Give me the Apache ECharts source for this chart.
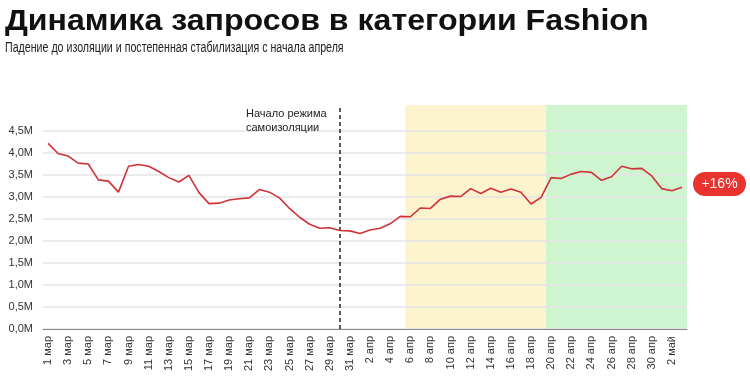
<!DOCTYPE html>
<html><head><meta charset="utf-8">
<script src="https://cdn.jsdelivr.net/npm/echarts@6/dist/echarts.min.js"></script>
<style>html,body{margin:0;padding:0;background:#fff}#c{width:750px;height:376px}</style>
</head><body><div id="c"></div>
<script>
const categories = ['1 мар','2 мар','3 мар','4 мар','5 мар','6 мар','7 мар','8 мар','9 мар','10 мар','11 мар','12 мар','13 мар','14 мар','15 мар','16 мар','17 мар','18 мар','19 мар','20 мар','21 мар','22 мар','23 мар','24 мар','25 мар','26 мар','27 мар','28 мар','29 мар','30 мар','31 мар','1 апр','2 апр','3 апр','4 апр','5 апр','6 апр','7 апр','8 апр','9 апр','10 апр','11 апр','12 апр','13 апр','14 апр','15 апр','16 апр','17 апр','18 апр','19 апр','20 апр','21 апр','22 апр','23 апр','24 апр','25 апр','26 апр','27 апр','28 апр','29 апр','30 апр','1 май','2 май','3 май'];
// queries, millions
const queries = [4.22,3.99,3.93,3.77,3.75,3.39,3.36,3.11,3.70,3.74,3.70,3.58,3.44,3.34,3.49,3.10,2.85,2.86,2.93,2.96,2.98,3.17,3.11,2.98,2.74,2.54,2.38,2.29,2.30,2.24,2.23,2.17,2.25,2.29,2.39,2.56,2.55,2.75,2.74,2.95,3.02,3.01,3.19,3.08,3.20,3.11,3.18,3.11,2.84,2.99,3.44,3.42,3.52,3.58,3.56,3.38,3.46,3.70,3.64,3.65,3.48,3.19,3.14,3.22];
const yTicks = [0,0.5,1,1.5,2,2.5,3,3.5,4,4.5];
const isolationStart = '30 мар';
const yellowStart = '6 апр';
const greenStart = '20 апр';
const titleText = 'Динамика запросов в категории Fashion';
const subtitleText = 'Падение до изоляции и постепенная стабилизация с начала апреля';
const annotation = ['Начало режима','самоизоляции'];
const badge = '+16%';

const iIso = categories.indexOf(isolationStart);
const iY = categories.indexOf(yellowStart);
const iG = categories.indexOf(greenStart);
const n = categories.length;
const FF = 'Liberation Sans, Arial';

const chart = echarts.init(document.getElementById('c'), null, {renderer:'canvas'});
chart.setOption({
  backgroundColor:'#fff',
  animation:false,
  grid:[
    {left:43, right:63, top:131, bottom:47},
    {left:43, right:63, top:105, bottom:47}
  ],
  xAxis:[
    {type:'category', gridIndex:0, data:categories, boundaryGap:true,
     axisLine:{lineStyle:{color:'#888', width:1}}, axisTick:{show:false},
     axisLabel:{interval:1, rotate:90, fontSize:11, color:'#333', margin:7, fontFamily:FF},
     z:3},
    {type:'value', gridIndex:1, min:0, max:n, show:false}
  ],
  yAxis:[
    {type:'value', gridIndex:0, min:yTicks[0], max:yTicks[yTicks.length-1], interval:yTicks[1]-yTicks[0],
     axisLine:{show:false}, axisTick:{show:false},
     splitLine:{lineStyle:{color:'#e4e4e4', width:1.5}},
     axisLabel:{fontSize:11, color:'#333', margin:10, fontFamily:FF,
       formatter:v=>v.toFixed(1).replace('.',',')+'M'},
     z:3},
    {type:'value', gridIndex:1, min:0, max:1, show:false}
  ],
  series:[
    {type:'line', xAxisIndex:1, yAxisIndex:1, data:[], silent:true, z:1,
     markArea:{silent:true, data:[
       [{xAxis:iY, itemStyle:{color:'#fdf3cf'}},{xAxis:iG}],
       [{xAxis:iG, itemStyle:{color:'#cef5d0'}},{xAxis:n}]
     ]},
     markLine:{silent:true, symbol:'none', label:{show:false},
       lineStyle:{color:'#222', type:[4,3], width:1.5},
       data:[{xAxis:iIso+0.5}]}
    },
    {type:'line', xAxisIndex:0, yAxisIndex:0, data:queries, z:5, symbol:'none',
     lineStyle:{color:'#cf3237', width:1.6}}
  ],
  graphic:[
    {type:'text', x:5, y:7, scaleX:1.07, z:10,
     style:{text:titleText, x:0, y:0, align:'left', verticalAlign:'top', fontSize:30, fontWeight:'bold', fill:'#111', fontFamily:FF}},
    {type:'text', x:5, y:41, scaleX:0.76, z:10,
     style:{text:subtitleText, x:0, y:0, align:'left', verticalAlign:'top', fontSize:14, fill:'#222', fontFamily:FF}},
    {type:'text', x:246, y:107, z:10,
     style:{text:annotation.join('\n'), x:0, y:0, align:'left', verticalAlign:'top', fontSize:11, lineHeight:14, fill:'#222', fontFamily:FF}},
    {type:'group', x:693, y:172, z:10, children:[
      {type:'rect', shape:{x:0,y:0,width:53,height:24,r:12}, style:{fill:'#e8332f'}},
      {type:'text', style:{text:badge, x:26.5, y:12, align:'center', verticalAlign:'middle', fontSize:14, fill:'#fff', fontFamily:FF}}
    ]}
  ]
});
</script></body></html>
